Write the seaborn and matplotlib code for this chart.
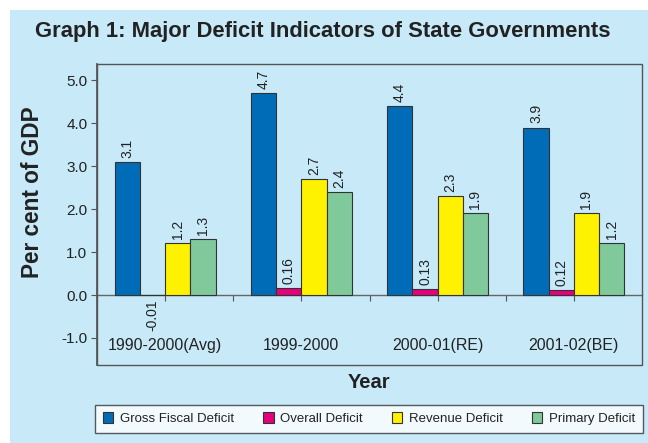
import matplotlib
matplotlib.use("Agg")
import matplotlib.pyplot as plt
from matplotlib.patches import Rectangle
import seaborn as sns
import pandas as pd

categories = ["1990-2000(Avg)", "1999-2000", "2000-01(RE)", "2001-02(BE)"]
series_names = ["Gross Fiscal Deficit", "Overall Deficit", "Revenue Deficit", "Primary Deficit"]
gross_fiscal = [3.1, 4.7, 4.4, 3.9]
overall = [-0.01, 0.16, 0.13, 0.12]
revenue = [1.2, 2.7, 2.3, 1.9]
primary = [1.3, 2.4, 1.9, 1.2]
y_ticks = [-1.0, 0.0, 1.0, 2.0, 3.0, 4.0, 5.0]
colors = ["#006cb7", "#e5007d", "#fff200", "#80c99b"]

BG = "#c7e9f8"
TXT = "#222222"

sns.set_theme(style="white")
plt.rcParams["font.family"] = ["Liberation Sans", "DejaVu Sans"]

rows = []
for name, vals in zip(series_names, [gross_fiscal, overall, revenue, primary]):
    for c, v in zip(categories, vals):
        rows.append({"Year": c, "Indicator": name, "value": v})
df = pd.DataFrame(rows)

W, H = 648, 443
fig = plt.figure(figsize=(W / 100, H / 100), dpi=100, facecolor="white")
fig.patches.append(Rectangle((10 / W, 0), 1 - 10 / W, 1 - 10 / H, transform=fig.transFigure,
                             facecolor=BG, edgecolor="none", zorder=-10))

ax = fig.add_axes([97 / W, 1 - 365 / H, (642 - 97) / W, (365 - 64) / H])
ax.set_facecolor(BG)

sns.barplot(data=df, x="Year", y="value", hue="Indicator", order=categories,
            hue_order=series_names, palette=colors, saturation=1, width=0.74, gap=0,
            edgecolor="#333333", linewidth=0.8, ax=ax, zorder=3)

handles, labels = ax.get_legend_handles_labels()
if ax.get_legend() is not None:
    ax.get_legend().remove()

for cont, vals in zip(ax.containers, [gross_fiscal, overall, revenue, primary]):
    ax.bar_label(cont, labels=[format(v, "g") for v in vals], rotation=90,
                 padding=3, fontsize=10, color=TXT)

ax.set_ylim(-1.63, 5.38)
ax.set_xlim(-0.5, len(categories) - 0.5)
ax.set_yticks(y_ticks)
ax.set_yticklabels([f"{t:.1f}" for t in y_ticks], fontsize=11, color=TXT)
ax.tick_params(axis="y", direction="out", length=4, width=0.8, color="#555555", left=True, pad=3)

for s in ["top", "right"]:
    ax.spines[s].set_visible(False)
ax.spines["left"].set_color("#555555")
ax.spines["bottom"].set_position(("data", 0))
ax.spines["bottom"].set_color("#666666")
ax.spines["bottom"].set_linewidth(1.0)
ax.spines["bottom"].set_zorder(2)
n = len(categories)
ax.set_xticks([i + 0.5 for i in range(n - 1)] + list(range(n)))
ax.tick_params(axis="x", direction="out", length=4, width=0.8, color="#555555",
               bottom=True, labelbottom=False)
ax.set_xlabel("")
ax.set_ylabel("")
ax.add_patch(Rectangle((0, 0), 1, 1, transform=ax.transAxes, fill=False,
                       edgecolor="#555555", linewidth=1.0, clip_on=False, zorder=5))

for i, c in enumerate(categories):
    ax.text(i, -1.18, c, ha="center", va="center", fontsize=11.5, color=TXT)

fig.text(323 / W, 1 - 32 / H, "Graph 1: Major Deficit Indicators of State Governments",
         ha="center", va="center", fontsize=15.8, fontweight="bold", color=TXT)
fig.text(33 / W, 1 - 192 / H, "Per cent of GDP", rotation=90, ha="center", va="center",
         fontsize=16.3, fontweight="bold", color=TXT)
fig.text(369 / W, 1 - 383 / H, "Year", ha="center", va="center",
         fontsize=14.5, fontweight="bold", color=TXT)

leg = fig.legend(handles, labels, loc="lower left",
                 bbox_to_anchor=(95 / W, 1 - 433 / H, (643 - 95) / W, 30 / H),
                 mode="expand", ncol=4, frameon=True, fancybox=False,
                 fontsize=9.5, handlelength=0.8, handleheight=0.8, handletextpad=0.5,
                 borderaxespad=0, borderpad=0.6)
leg.get_frame().set_edgecolor("#333333")
leg.get_frame().set_linewidth(1.0)
leg.get_frame().set_facecolor("white")
for t in leg.get_texts():
    t.set_color(TXT)

fig.savefig("out.png", dpi=100, facecolor="white")
